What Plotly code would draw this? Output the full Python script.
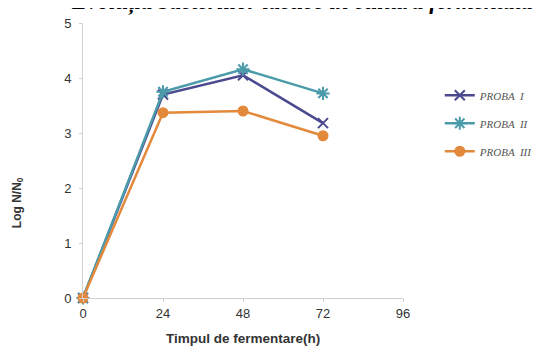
import plotly.graph_objects as go

hours = [0, 24, 48, 72]
proba_1 = [0.0, 3.70, 4.05, 3.18]
proba_2 = [0.0, 3.75, 4.16, 3.72]
proba_3 = [0.0, 3.37, 3.40, 2.95]
series_names = ["PROBA  I", "PROBA  II", "PROBA  III"]
x_ticks = [0, 24, 48, 72, 96]
y_ticks = [0, 1, 2, 3, 4, 5]
title_text = "Evoluția bacteriilor lactice în cultura fermentată"
x_title = "Timpul de fermentare(h)"
y_title = "Log N/N<sub>0</sub>"

fig = go.Figure()
styles = [
    dict(color="#4b4a8f", symbol="x-thin-open", size=10),
    dict(color="#4b9bab", symbol="asterisk-open", size=11),
    dict(color="#e3893c", symbol="circle", size=9),
]
for i, (name, vals, st) in enumerate(zip(series_names, [proba_1, proba_2, proba_3], styles)):
    fig.add_trace(go.Scatter(
        x=hours, y=vals, name=name, mode="lines+markers", legendgroup=f"g{i}",
        line=dict(color=st["color"], width=2.5),
        marker=dict(symbol=st["symbol"], size=st["size"], color=st["color"],
                    line=dict(color=st["color"], width=2)),
        cliponaxis=False,
    ))

fig.add_annotation(
    text="<b><i>" + title_text + "</i></b>",
    xref="paper", yref="paper", x=-0.045, y=1.023,
    xanchor="left", yanchor="bottom", showarrow=False,
    font=dict(family="Liberation Serif, Times New Roman, serif", size=23, color="#000000"),
)
fig.add_annotation(
    text="<b>" + y_title + "</b>", textangle=-90,
    xref="paper", yref="paper", x=-0.203, y=0.345,
    xanchor="center", yanchor="middle", showarrow=False,
    font=dict(family="Liberation Sans, Arial", size=12, color="#333333"),
)
fig.add_annotation(
    text="<b>" + x_title + "</b>",
    xref="paper", yref="paper", x=(243 - 83) / 320, y=-(338 - 298) / 275,
    xanchor="center", yanchor="middle", showarrow=False,
    font=dict(family="Liberation Sans, Arial", size=13.5, color="#333333"),
)

fig.update_layout(
    width=533, height=352,
    margin=dict(l=75, r=138, t=15, b=62, autoexpand=False),
    paper_bgcolor="white", plot_bgcolor="white",
    showlegend=True,
    legend=dict(
        x=1.115, y=0.79, xanchor="left", yanchor="top",
        font=dict(family="Liberation Serif, Times New Roman, serif", size=11, color="#555555", style="italic"),
        itemwidth=30, tracegroupgap=9, bgcolor="rgba(0,0,0,0)",
    ),
    xaxis=dict(
        range=[0, 96], tickvals=x_ticks, ticktext=[str(t) for t in x_ticks],
        automargin=False,
        showgrid=False, zeroline=False, showline=True, linecolor="#d0d0d0", linewidth=1,
        ticks="outside", ticklen=3, tickcolor="#d0d0d0", ticklabelstandoff=0,
        tickfont=dict(family="Liberation Sans Narrow, Liberation Sans, Arial", size=13, color="#333333"),
    ),
    yaxis=dict(
        range=[0, 5], tickvals=y_ticks, automargin=False,
        showgrid=False, zeroline=False, showline=True, linecolor="#d0d0d0", linewidth=1,
        ticks="outside", ticklen=3, tickcolor="#d0d0d0", ticklabelstandoff=5,
        tickfont=dict(family="Liberation Sans Narrow, Liberation Sans, Arial", size=13, color="#333333"),
    ),
)

fig.write_html("out.html")
